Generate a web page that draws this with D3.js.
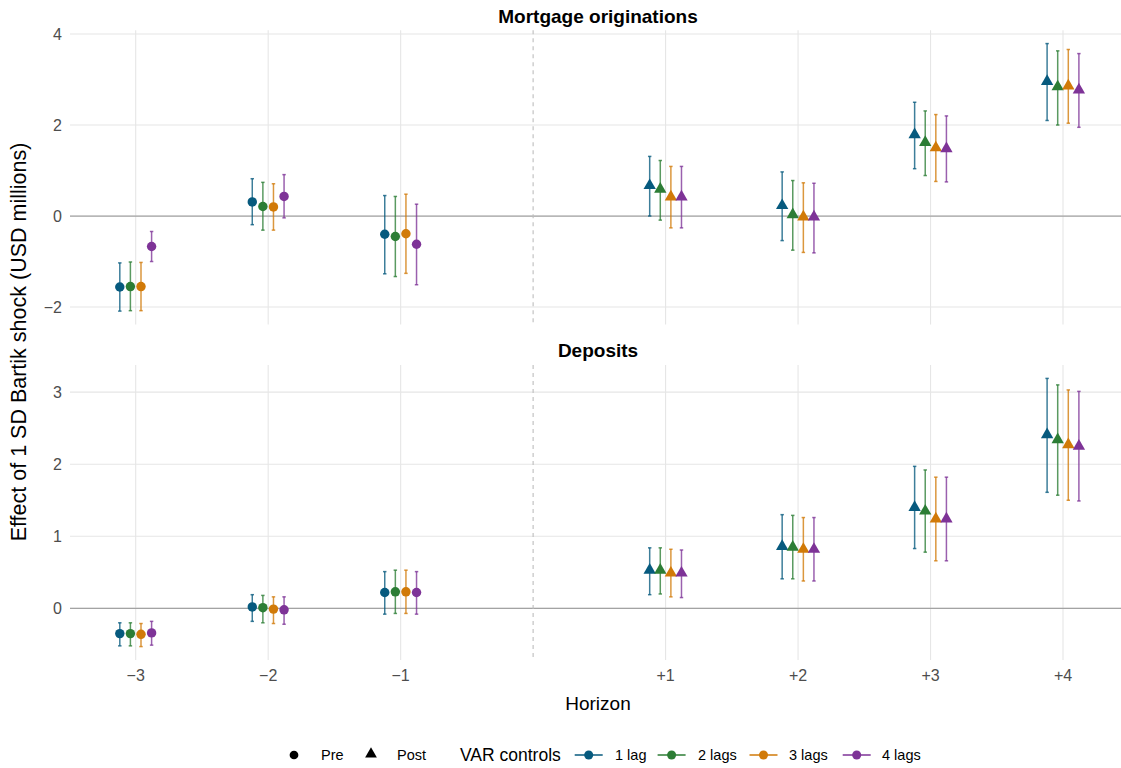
<!DOCTYPE html>
<html><head><meta charset="utf-8">
<script src="https://cdn.jsdelivr.net/npm/d3@7"></script>
<style>body{margin:0;background:#fff}svg{font-family:"Liberation Sans",Arial,sans-serif}</style>
</head><body><svg id="c" width="1121" height="768"></svg>
<script>
const horizons = [-3, -2, -1, 1, 2, 3, 4];
const xTickLabels = ["\u22123", "\u22122", "\u22121", "+1", "+2", "+3", "+4"];
const lags = ["1 lag", "2 lags", "3 lags", "4 lags"];
const lagColors = ["#075a7e", "#2c7d35", "#d17a08", "#7e3397"];

const mortgageEst = [
  [-1.56, 0.31, -0.40, 0.67, 0.23, 1.79, 2.96],
  [-1.55, 0.21, -0.45, 0.59, 0.03, 1.62, 2.84],
  [-1.55, 0.20, -0.39, 0.42, -0.02, 1.50, 2.86],
  [-0.67, 0.43, -0.62, 0.42, -0.02, 1.48, 2.77]
];
const mortgageLo = [
  [-2.09, -0.19, -1.27, 0.00, -0.54, 1.04, 2.10],
  [-2.08, -0.31, -1.33, -0.09, -0.75, 0.89, 2.00],
  [-2.08, -0.31, -1.26, -0.26, -0.80, 0.76, 2.04],
  [-1.00, -0.04, -1.51, -0.26, -0.81, 0.75, 1.95]
];
const mortgageHi = [
  [-1.03, 0.82, 0.45, 1.31, 0.97, 2.50, 3.79],
  [-1.01, 0.74, 0.43, 1.22, 0.78, 2.31, 3.63],
  [-1.02, 0.71, 0.48, 1.09, 0.73, 2.23, 3.66],
  [-0.34, 0.91, 0.26, 1.09, 0.72, 2.20, 3.57]
];
const depositEst = [
  [-0.35, 0.02, 0.22, 0.53, 0.86, 1.40, 2.41],
  [-0.35, 0.01, 0.23, 0.53, 0.85, 1.35, 2.34],
  [-0.36, -0.01, 0.23, 0.49, 0.82, 1.24, 2.27],
  [-0.34, -0.02, 0.22, 0.49, 0.82, 1.24, 2.25]
];
const depositLo = [
  [-0.52, -0.18, -0.08, 0.19, 0.41, 0.83, 1.61],
  [-0.52, -0.20, -0.07, 0.20, 0.41, 0.78, 1.57],
  [-0.53, -0.21, -0.07, 0.16, 0.38, 0.66, 1.50],
  [-0.51, -0.22, -0.08, 0.15, 0.38, 0.66, 1.49]
];
const depositHi = [
  [-0.20, 0.19, 0.51, 0.84, 1.30, 1.97, 3.19],
  [-0.20, 0.18, 0.53, 0.84, 1.29, 1.92, 3.10],
  [-0.21, 0.16, 0.53, 0.82, 1.26, 1.82, 3.03],
  [-0.18, 0.16, 0.51, 0.81, 1.26, 1.82, 3.01]
];
const mortgageTicks = [-2, 0, 2, 4];
const depositTicks = [0, 1, 2, 3];

const svg = d3.select("#c");
const panelLeft = 70, panelRight = 1121;
const x = d3.scaleLinear().domain([-3, 4]).range([135.7, 1063]);
const dodge = 0.08;

const panels = [
  {title: "Mortgage originations", est: mortgageEst, lo: mortgageLo, hi: mortgageHi, ticks: mortgageTicks, top: 30.2, bottom: 324.5, titleY: 16},
  {title: "Deposits", est: depositEst, lo: depositLo, hi: depositHi, ticks: depositTicks, top: 365, bottom: 660, titleY: 350}
];

panels.forEach(p => {
  const mn = d3.min(p.lo.flat()), mx = d3.max(p.hi.flat());
  const pad = (mx - mn) * 0.05;
  const y = d3.scaleLinear().domain([mn - pad, mx + pad]).range([p.bottom, p.top]);
  const g = svg.append("g");
  g.selectAll(".hg").data(p.ticks).join("line")
    .attr("x1", panelLeft).attr("x2", panelRight)
    .attr("y1", d => y(d)).attr("y2", d => y(d))
    .attr("stroke", "#e6e6e6").attr("stroke-width", 1.1);
  g.selectAll(".vg").data(horizons).join("line")
    .attr("x1", d => x(d)).attr("x2", d => x(d))
    .attr("y1", p.top).attr("y2", p.bottom)
    .attr("stroke", "#e6e6e6").attr("stroke-width", 1.1);
  g.append("line").attr("x1", panelLeft).attr("x2", panelRight)
    .attr("y1", y(0)).attr("y2", y(0)).attr("stroke", "#a3a3a3").attr("stroke-width", 1.2);
  g.append("line").attr("x1", x(0)).attr("x2", x(0))
    .attr("y1", p.top).attr("y2", p.bottom)
    .attr("stroke", "#bdbdbd").attr("stroke-width", 1.1).attr("stroke-dasharray", "4,4");
  g.selectAll(".yt").data(p.ticks).join("text")
    .attr("x", 62).attr("y", d => y(d)).attr("dy", "0.36em")
    .attr("text-anchor", "end").attr("font-size", 16).attr("fill", "#4d4d4d")
    .text(d => d < 0 ? "\u2212" + Math.abs(d) : d);
  g.append("text").attr("x", 598).attr("y", p.titleY).attr("dy", "0.35em")
    .attr("text-anchor", "middle").attr("font-size", 19).attr("font-weight", "bold")
    .attr("fill", "#000").text(p.title);

  lags.forEach((lag, li) => {
    const off = (li - 1.5) * dodge;
    const col = lagColors[li];
    const data = horizons.map((h, i) => ({h, e: p.est[li][i], lo: p.lo[li][i], hi: p.hi[li][i]}));
    const lg = g.append("g");
    lg.selectAll(".eb").data(data).join("line")
      .attr("x1", d => x(d.h + off)).attr("x2", d => x(d.h + off))
      .attr("y1", d => y(d.lo)).attr("y2", d => y(d.hi))
      .attr("stroke", col).attr("stroke-opacity", 0.78).attr("stroke-width", 1.5);
    ["lo", "hi"].forEach(k => {
      lg.selectAll(".cap" + k).data(data).join("line")
        .attr("x1", d => x(d.h + off - 0.013)).attr("x2", d => x(d.h + off + 0.013))
        .attr("y1", d => y(d[k])).attr("y2", d => y(d[k]))
        .attr("stroke", col).attr("stroke-opacity", 0.78).attr("stroke-width", 1.5);
    });
    lg.selectAll(".pt").data(data).join("path")
      .attr("transform", d => `translate(${x(d.h + off)},${y(d.e)})`)
      .attr("d", d => d3.symbol().type(d.h < 0 ? d3.symbolCircle : d3.symbolTriangle).size(d.h < 0 ? 70 : 66)())
      .attr("fill", col);
  });
});

svg.selectAll(".xt").data(horizons).join("text")
  .attr("x", d => x(d)).attr("y", 675).attr("dy", "0.35em")
  .attr("text-anchor", "middle").attr("font-size", 16).attr("fill", "#4d4d4d")
  .text((d, i) => xTickLabels[i]);

svg.append("text").attr("x", 598).attr("y", 703).attr("dy", "0.35em")
  .attr("text-anchor", "middle").attr("font-size", 19).attr("fill", "#000").text("Horizon");
svg.append("text").attr("transform", "translate(18,342) rotate(-90)").attr("dy", "0.35em")
  .attr("text-anchor", "middle").attr("font-size", 21.5).attr("fill", "#000")
  .text("Effect of 1 SD Bartik shock (USD millions)");

const ly = 755;
const leg = svg.append("g");
leg.append("path").attr("transform", `translate(294,${ly})`).attr("d", d3.symbol().type(d3.symbolCircle).size(60)()).attr("fill", "#000");
leg.append("text").attr("x", 321).attr("y", ly).attr("dy", "0.35em").attr("font-size", 14.5).text("Pre");
leg.append("path").attr("transform", `translate(371,${ly - 1})`).attr("d", d3.symbol().type(d3.symbolTriangle).size(60)()).attr("fill", "#000");
leg.append("text").attr("x", 397).attr("y", ly).attr("dy", "0.35em").attr("font-size", 14.5).text("Post");
leg.append("text").attr("x", 460).attr("y", ly).attr("dy", "0.35em").attr("font-size", 17.5).text("VAR controls");
const keyX = [588.7, 671.6, 763.5, 856.7];
const labX = [615, 698, 789, 882];
lags.forEach((lag, i) => {
  leg.append("line").attr("x1", keyX[i] - 14).attr("x2", keyX[i] + 14).attr("y1", ly).attr("y2", ly)
    .attr("stroke", lagColors[i]).attr("stroke-width", 1.5);
  leg.append("circle").attr("cx", keyX[i]).attr("cy", ly).attr("r", 4.5).attr("fill", lagColors[i]);
  leg.append("text").attr("x", labX[i]).attr("y", ly).attr("dy", "0.35em").attr("font-size", 14.5).text(lag);
});
</script></body></html>
